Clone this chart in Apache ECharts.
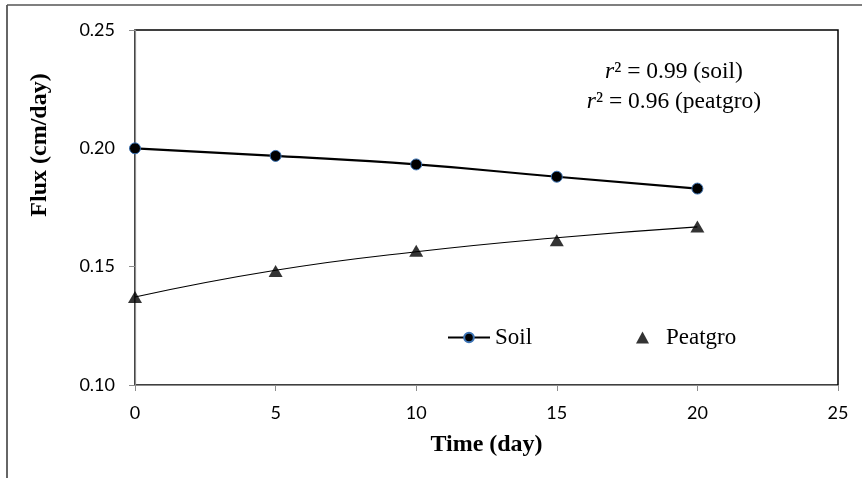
<!DOCTYPE html>
<html>
<head>
<meta charset="utf-8">
<script src="https://cdn.jsdelivr.net/npm/echarts@6/dist/echarts.min.js"></script>
<style>html,body{margin:0;padding:0;background:#fff}#c{width:862px;height:478px}</style>
</head>
<body>
<div id="c"></div>
<script>
// Data
const timeDays = [0, 5, 10, 15, 20];
const soilFlux = [0.200, 0.1968, 0.1932, 0.1880, 0.1830];
const peatgroFlux = [0.1372, 0.1482, 0.1567, 0.1612, 0.1670];
const peatgroTrend = [0.1372, 0.1485, 0.1563, 0.1622, 0.1668];
const xTicks = [0, 5, 10, 15, 20, 25];
const yTicks = [0.10, 0.15, 0.20, 0.25];
const annotations = ['0.99 (soil)', '0.96 (peatgro)'];

const pairs = (xs, ys) => xs.map((x, i) => [x, ys[i]]);

const chart = echarts.init(document.getElementById('c'), null, {renderer: 'canvas'});
const serif = '"Liberation Serif", "DejaVu Serif", serif';
const sans = 'Lato, "Noto Sans", sans-serif';

chart.setOption({
  animation: false,
  backgroundColor: '#fff',
  grid: {left: 135, right: 24, top: 30, bottom: 93, show: true, borderColor: '#000', borderWidth: 1.5, backgroundColor: 'transparent'},
  xAxis: {
    type: 'value', min: xTicks[0], max: xTicks[xTicks.length - 1], interval: 5,
    name: 'Time (day)', nameLocation: 'middle', nameGap: 48,
    nameTextStyle: {fontFamily: serif, fontWeight: 'bold', fontSize: 24, color: '#000', verticalAlign: 'top'},
    axisLine: {show: true, lineStyle: {color: '#8c8c8c', width: 1.2}},
    axisTick: {show: true, length: 6, lineStyle: {color: '#8c8c8c'}},
    axisLabel: {fontFamily: sans, fontSize: 18, color: '#000', margin: 19},
    splitLine: {show: false}
  },
  yAxis: {
    type: 'value', min: yTicks[0], max: yTicks[yTicks.length - 1], interval: 0.05,
    axisLine: {show: true, lineStyle: {color: '#8c8c8c', width: 1.2}},
    axisTick: {show: true, length: 6, lineStyle: {color: '#8c8c8c'}},
    axisLabel: {fontFamily: sans, fontSize: 18, color: '#000', margin: 20, formatter: v => v.toFixed(2)},
    splitLine: {show: false}
  },
  legend: [
    {data: ['Soil'], left: 442, top: 321, itemWidth: 42, itemHeight: 12,
     textStyle: {fontFamily: serif, fontSize: 23, color: '#000'}},
    {data: ['Peatgro'], left: 631, top: 321, itemWidth: 13, itemHeight: 12,
     textStyle: {fontFamily: serif, fontSize: 23, color: '#000', padding: [0,0,0,12]}}
  ],
  series: [
    {name: 'Peatgro trend', type: 'line', smooth: true, showSymbol: false, symbol: 'none',
     data: pairs(timeDays, peatgroTrend), lineStyle: {color: '#000', width: 1.1}, silent: true, z: 2},
    {name: 'Soil', type: 'line', smooth: true, data: pairs(timeDays, soilFlux),
     symbol: 'circle', symbolSize: 11,
     itemStyle: {color: '#000', borderColor: '#3d74b5', borderWidth: 1},
     lineStyle: {color: '#000', width: 2.2}, z: 3},
    {name: 'Peatgro', type: 'scatter', data: pairs(timeDays, peatgroFlux),
     symbol: 'triangle', symbolSize: [14, 12], itemStyle: {color: '#000'}, z: 4}
  ],
  graphic: [
    {type: 'line', shape: {x1: 7, y1: 5, x2: 7, y2: 478}, style: {stroke: '#666', lineWidth: 2}},
    {type: 'line', shape: {x1: 7, y1: 5, x2: 862, y2: 5}, style: {stroke: '#555', lineWidth: 1.5}},
    {type: 'text', x: 40, y: 145, rotation: Math.PI / 2, style: {
      text: 'Flux (cm/day)', align: 'center', verticalAlign: 'middle',
      font: 'bold 24px ' + serif, fill: '#000'}},
    {type: 'text', x: 674, y: 72, style: {
      text: '{i|r}² = ' + annotations[0], align: 'center', verticalAlign: 'middle',
      font: '23.5px ' + serif, fill: '#000',
      rich: {i: {fontStyle: 'italic', fontFamily: serif, fontSize: 23.5}}
    }},
    {type: 'text', x: 674, y: 102, style: {
      text: '{i|r}² = ' + annotations[1], align: 'center', verticalAlign: 'middle',
      font: '23.5px ' + serif, fill: '#000',
      rich: {i: {fontStyle: 'italic', fontFamily: serif, fontSize: 23.5}}
    }}
  ]
});
</script>
</body>
</html>
